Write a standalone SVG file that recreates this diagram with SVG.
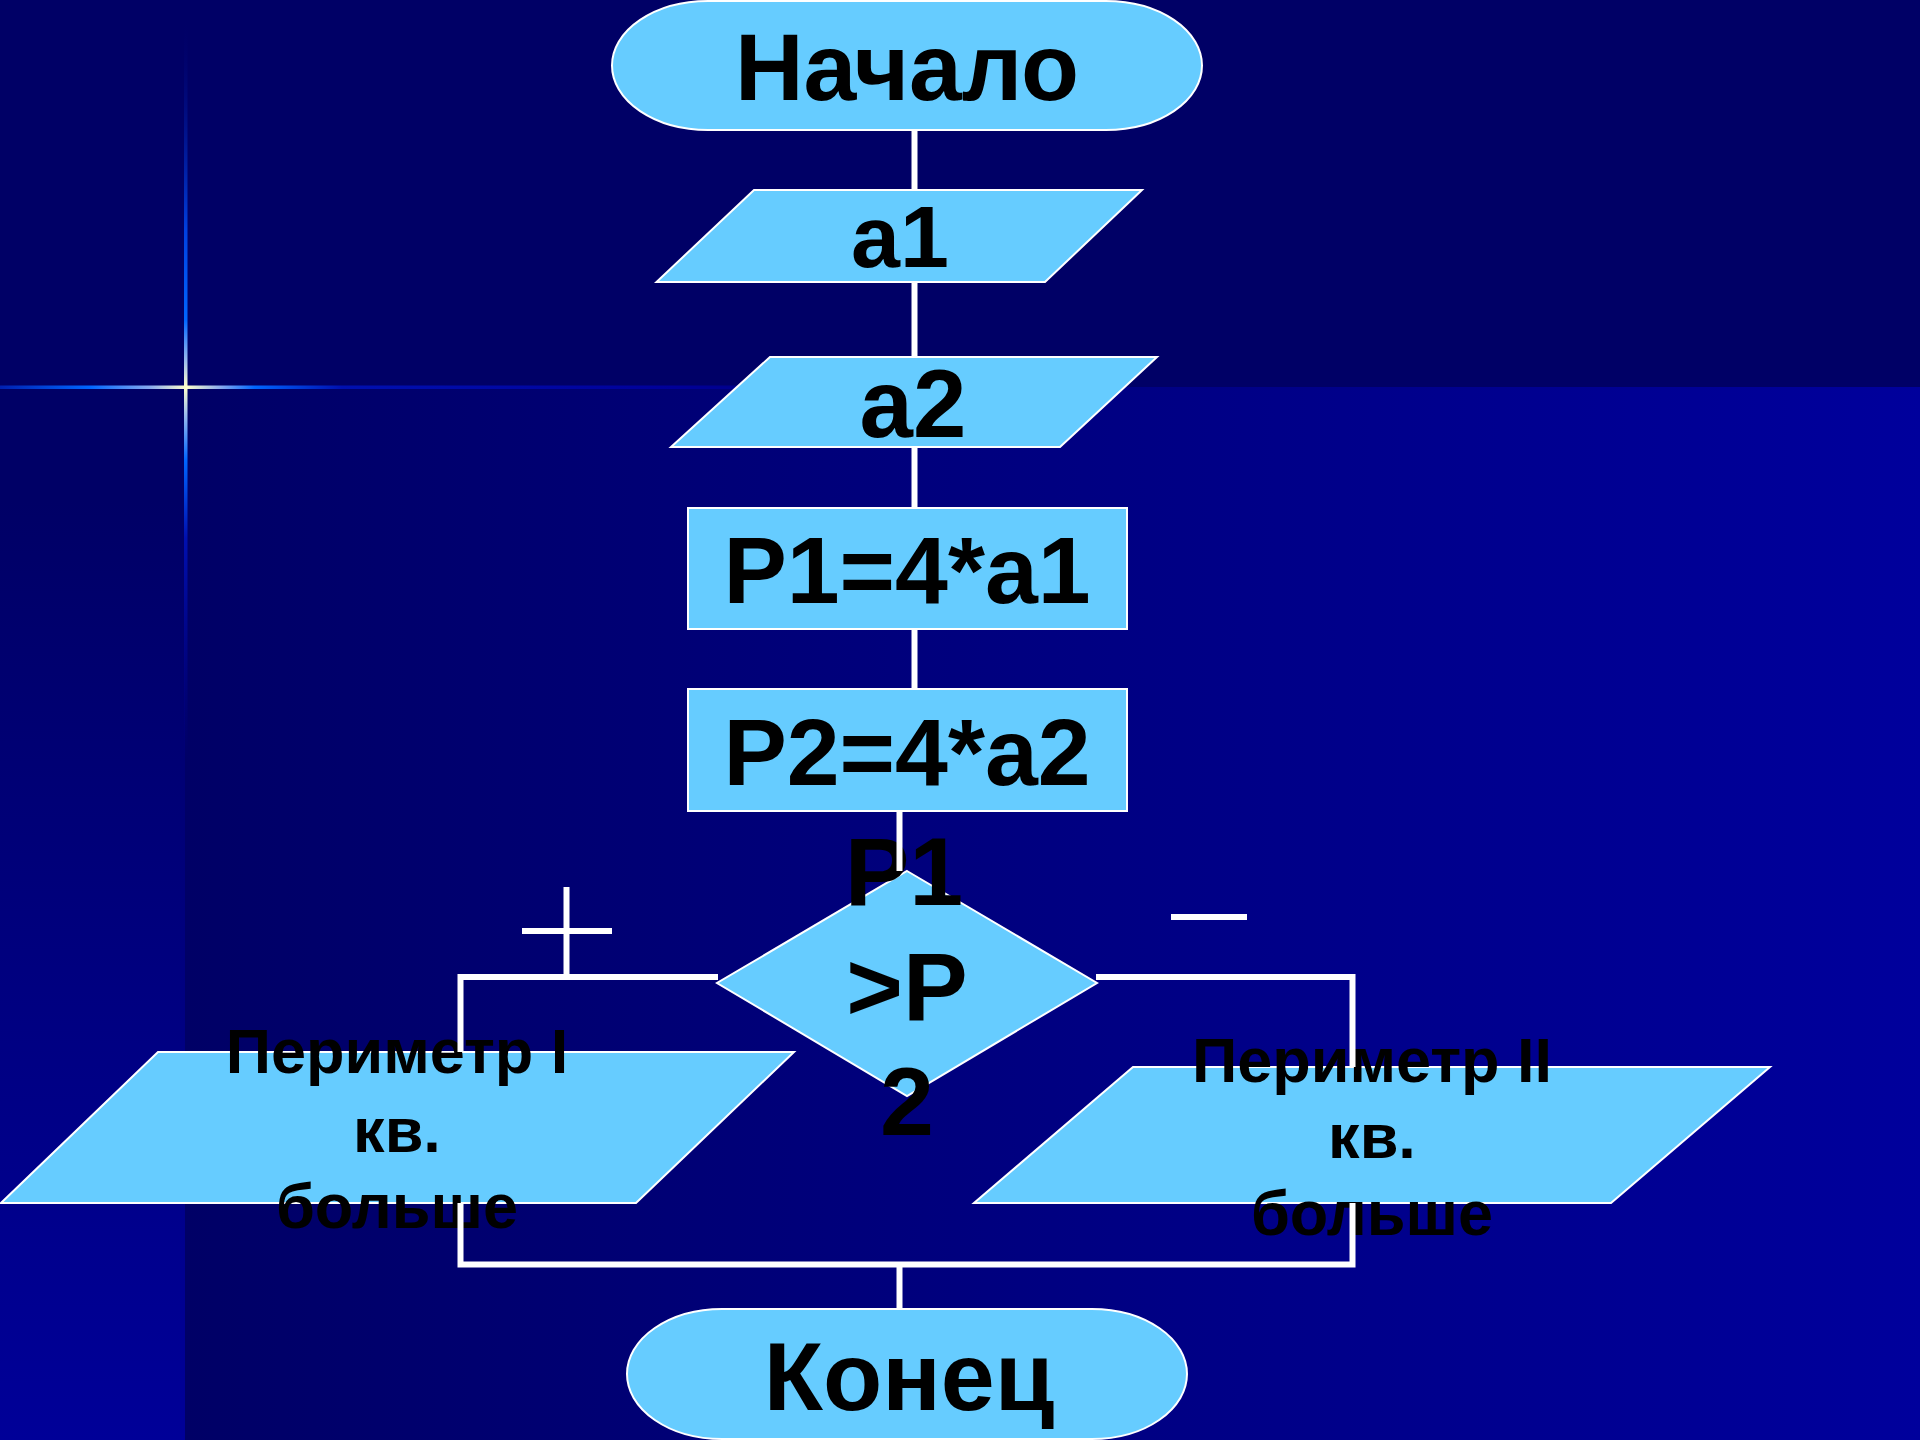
<svg xmlns="http://www.w3.org/2000/svg" width="1920" height="1440" viewBox="0 0 1920 1440">
<defs>
<linearGradient id="gMain" gradientUnits="userSpaceOnUse" x1="185" y1="0" x2="1920" y2="0">
<stop offset="0" stop-color="#000066"/>
<stop offset="1" stop-color="#00009C"/>
</linearGradient>
<linearGradient id="gLeft" gradientUnits="userSpaceOnUse" x1="0" y1="500" x2="0" y2="1440">
<stop offset="0" stop-color="#000066"/>
<stop offset="1" stop-color="#000098"/>
</linearGradient>
<linearGradient id="gSparkV" gradientUnits="userSpaceOnUse" x1="0" y1="20" x2="0" y2="760">
<stop offset="0" stop-color="#000070" stop-opacity="0"/>
<stop offset="0.284" stop-color="#0040E0"/>
<stop offset="0.405" stop-color="#0066FF"/>
<stop offset="0.46" stop-color="#99BBEE"/>
<stop offset="0.496" stop-color="#FFFFCC"/>
<stop offset="0.534" stop-color="#99BBEE"/>
<stop offset="0.595" stop-color="#0066FF"/>
<stop offset="0.70" stop-color="#0010B0"/>
<stop offset="1" stop-color="#000090" stop-opacity="0"/>
</linearGradient>
<linearGradient id="gSparkH" gradientUnits="userSpaceOnUse" x1="0" y1="0" x2="900" y2="0">
<stop offset="0" stop-color="#0020B0"/>
<stop offset="0.1" stop-color="#0066FF"/>
<stop offset="0.167" stop-color="#88AAEE"/>
<stop offset="0.207" stop-color="#FFFFCC"/>
<stop offset="0.245" stop-color="#88AAEE"/>
<stop offset="0.283" stop-color="#0066FF"/>
<stop offset="0.38" stop-color="#0010B0"/>
<stop offset="0.75" stop-color="#000099"/>
<stop offset="1" stop-color="#000090" stop-opacity="0"/>
</linearGradient>
</defs>
<style>
.shape{fill:#66CCFF;stroke:#FFFFFF;stroke-width:2}
.t{font-family:"Liberation Sans",Arial,sans-serif;font-weight:bold;fill:#000000;text-anchor:middle}
.conn{stroke:#FFFFFF;stroke-width:6;fill:none}
</style>

<g id="background">
<rect x="0" y="0" width="1920" height="1440" fill="#000066"/>
<rect x="185" y="387" width="1735" height="1053" fill="url(#gMain)"/>
<rect x="0" y="387" width="185" height="1053" fill="url(#gLeft)"/>
<rect x="184" y="20" width="3.5" height="740" fill="url(#gSparkV)"/>
<rect x="0" y="385.5" width="900" height="3.5" fill="url(#gSparkH)"/>
</g>

<g id="start">
<rect class="shape" x="612" y="1" width="590" height="129" rx="96" ry="64.5"/>
<text class="t" x="907" y="100" font-size="95">Начало</text>
</g>

<g id="input-a1">
<polygon class="shape" points="754,190 1142,190 1045,282 656.5,282"/>
<text class="t" x="900" y="267" font-size="88">а1</text>
</g>

<g id="input-a2">
<polygon class="shape" points="770,357 1157,357 1060,447 671,447"/>
<text class="t" x="913" y="437" font-size="96">а2</text>
</g>

<g id="calc-p1">
<rect class="shape" x="688" y="508" width="439" height="121"/>
<text class="t" x="907" y="603" font-size="95">P1=4*a1</text>
</g>

<g id="calc-p2">
<rect class="shape" x="688" y="689" width="439" height="122"/>
<text class="t" x="907" y="785" font-size="95">P2=4*a2</text>
</g>

<g id="decision">
<polygon class="shape" points="907,871 1097,983 907,1096 717,983"/>
<text class="t" font-size="97"><tspan x="904" y="905">P1</tspan><tspan x="907" y="1020">&gt;P</tspan><tspan x="907" y="1135">2</tspan></text>
</g>

<g id="output-1">
<polygon class="shape" points="158,1052 794,1052 636,1203 1,1203"/>
<text class="t" font-size="63"><tspan x="397" y="1073">Периметр I</tspan><tspan x="397" y="1152">кв.</tspan><tspan x="397" y="1228">больше</tspan></text>
</g>

<g id="output-2">
<polygon class="shape" points="1133,1067 1770,1067 1611,1203 974,1203"/>
<text class="t" font-size="63"><tspan x="1372" y="1082">Периметр II</tspan><tspan x="1372" y="1158">кв.</tspan><tspan x="1372" y="1235">больше</tspan></text>
</g>

<g id="end">
<rect class="shape" x="627" y="1309" width="560" height="130" rx="95" ry="65"/>
<text class="t" x="909" y="1410" font-size="97">Конец</text>
</g>

<g id="connectors">
<line class="conn" x1="914.5" y1="130" x2="914.5" y2="190"/>
<line class="conn" x1="914.5" y1="282" x2="914.5" y2="357"/>
<line class="conn" x1="914.5" y1="447" x2="914.5" y2="508"/>
<line class="conn" x1="914.5" y1="629" x2="914.5" y2="689"/>
<line class="conn" x1="899.5" y1="811" x2="899.5" y2="871"/>
<polyline class="conn" points="718,977 460.5,977 460.5,1052"/>
<polyline class="conn" points="1096,977 1352.5,977 1352.5,1067"/>
<polyline class="conn" points="460.5,1203 460.5,1264.5 1352.5,1264.5 1352.5,1203"/>
<line class="conn" x1="899.5" y1="1264.5" x2="899.5" y2="1309"/>
</g>

<g id="branch-marks">
<line class="conn" x1="566.5" y1="887" x2="566.5" y2="977"/>
<line class="conn" x1="522" y1="931" x2="612" y2="931"/>
<line class="conn" x1="1171" y1="917" x2="1247" y2="917"/>
</g>
</svg>
